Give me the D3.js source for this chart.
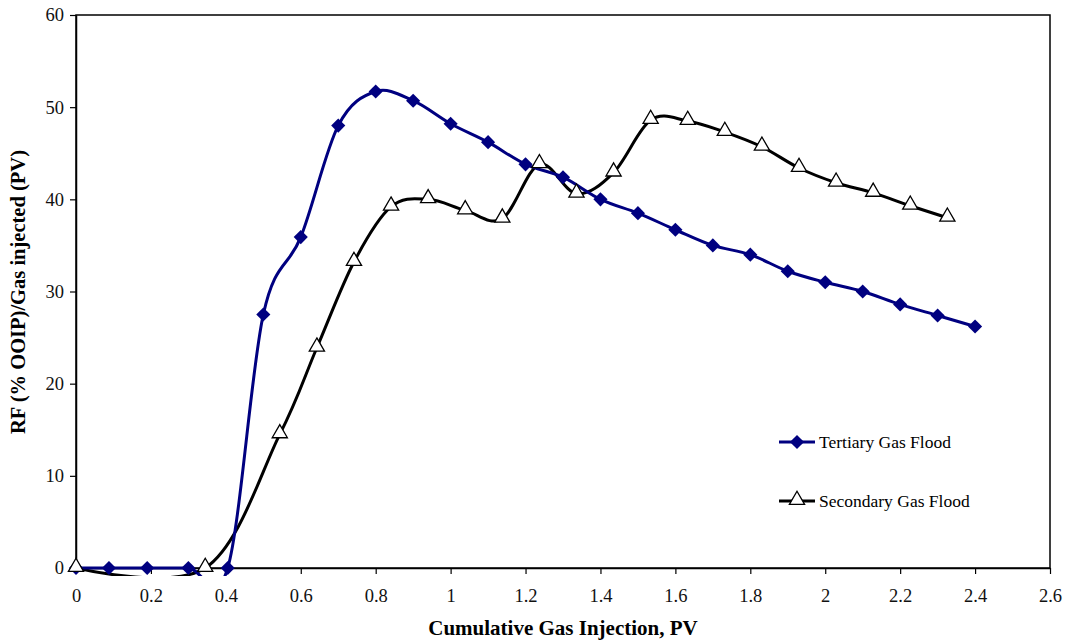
<!DOCTYPE html>
<html>
<head>
<meta charset="utf-8">
<script src="https://cdn.jsdelivr.net/npm/d3@7"></script>
<style>
  body { margin: 0; background: #fff; }
  text { font-family: "Liberation Serif", "Times New Roman", serif; }
</style>
</head>
<body>
<svg id="chart" width="1070" height="642"></svg>
<script>
// tertiary gas flood (blue diamonds)
var tertiaryX = [0, 0.088, 0.19, 0.3, 0.405, 0.5, 0.6, 0.7, 0.8, 0.9, 1.0, 1.1, 1.2, 1.3, 1.4, 1.5, 1.6, 1.7, 1.8, 1.9, 2.0, 2.1, 2.2, 2.3, 2.4];
var tertiaryY = [0, 0, 0, 0, 0, 27.5, 35.9, 48, 51.7, 50.7, 48.2, 46.2, 43.8, 42.4, 40, 38.5, 36.7, 35, 34, 32.2, 31, 30, 28.6, 27.4, 26.2];
// secondary gas flood (open triangles)
var secondaryX = [0, 0.345, 0.544, 0.643, 0.742, 0.841, 0.94, 1.039, 1.138, 1.237, 1.336, 1.435, 1.534, 1.633, 1.732, 1.831, 1.93, 2.029, 2.128, 2.227, 2.326];
var secondaryY = [0, 0, 14.5, 23.9, 33.2, 39.2, 40, 38.8, 37.9, 43.8, 40.6, 42.9, 48.6, 48.5, 47.3, 45.7, 43.4, 41.8, 40.7, 39.3, 38];

var xTicks = [0, 0.2, 0.4, 0.6, 0.8, 1, 1.2, 1.4, 1.6, 1.8, 2, 2.2, 2.4, 2.6];
var yTicks = [0, 10, 20, 30, 40, 50, 60];

var svg = d3.select('#chart');
var pLeft = 76, pRight = 1050, pTop = 15, pBottom = 568;

var x = d3.scaleLinear().domain([0, 2.6]).range([pLeft, pRight]);
var y = d3.scaleLinear().domain([0, 60]).range([pBottom, pTop]);

// clip to plot area (a little room below zero for the smoothing dip)
svg.append('defs').append('clipPath').attr('id', 'clip')
  .append('rect').attr('x', pLeft).attr('y', pTop).attr('width', pRight - pLeft).attr('height', pBottom - pTop + 8);

// frame
svg.append('rect')
  .attr('x', pLeft).attr('y', pTop)
  .attr('width', pRight - pLeft).attr('height', pBottom - pTop)
  .attr('fill', 'none').attr('stroke', '#000').attr('stroke-width', 1.5);

// axes
var xAxis = svg.append('g')
  .attr('transform', 'translate(0,' + pBottom + ')')
  .call(d3.axisBottom(x).tickValues(xTicks).tickSize(6).tickSizeOuter(0).tickPadding(15)
    .tickFormat(function (d) { return String(+d.toFixed(1)); }));
var yAxis = svg.append('g')
  .attr('transform', 'translate(' + pLeft + ',0)')
  .call(d3.axisLeft(y).tickValues(yTicks).tickSize(6).tickSizeOuter(0).tickPadding(6));

[xAxis, yAxis].forEach(function (a) {
  a.select('.domain').attr('stroke-width', 1.5);
  a.selectAll('.tick line').attr('stroke-width', 1.2);
  a.selectAll('.tick text').attr('font-size', 18.5).attr('font-family', '"Liberation Serif", serif').attr('fill', '#111');
});

// axis titles
svg.append('text')
  .attr('x', 563).attr('y', 635)
  .attr('text-anchor', 'middle')
  .attr('font-size', 21).attr('font-weight', 'bold')
  .text('Cumulative Gas Injection, PV');

svg.append('text')
  .attr('transform', 'translate(25,292) rotate(-90)')
  .attr('text-anchor', 'middle')
  .attr('font-size', 20.5).attr('font-weight', 'bold')
  .text('RF (% OOIP)/Gas injected (PV)');

var line = d3.line()
  .x(function (d) { return x(d[0]); })
  .y(function (d) { return y(d[1]); })
  .curve(d3.curveCardinal.tension(0));

var tertiary = d3.zip(tertiaryX, tertiaryY);
var secondary = d3.zip(secondaryX, secondaryY);

var plot = svg.append('g').attr('clip-path', 'url(#clip)');

plot.append('path').datum(secondary)
  .attr('d', line).attr('fill', 'none').attr('stroke', '#000').attr('stroke-width', 3);
plot.append('path').datum(tertiary)
  .attr('d', line).attr('fill', 'none').attr('stroke', '#000080').attr('stroke-width', 3);

var diamond = d3.symbol().type(d3.symbolSquare).size(100);
var triangle = d3.symbol().type(d3.symbolTriangle).size(100);

svg.append('g').selectAll('path')
  .data(tertiary).enter().append('path')
  .attr('d', diamond)
  .attr('transform', function (d) { return 'translate(' + x(d[0]) + ',' + y(d[1]) + ') rotate(45)'; })
  .attr('fill', '#000080');

svg.append('g').selectAll('path')
  .data(secondary).enter().append('path')
  .attr('d', triangle)
  .attr('transform', function (d) { return 'translate(' + x(d[0]) + ',' + (y(d[1]) - 1) + ')'; })
  .attr('fill', '#fff').attr('stroke', '#000').attr('stroke-width', 1.3);

// legend
var legend = [
  { name: 'Tertiary Gas Flood', color: '#000080', shape: 'diamond', yy: 442 },
  { name: 'Secondary Gas Flood', color: '#000', shape: 'triangle', yy: 501 }
];
legend.forEach(function (l) {
  svg.append('line').attr('x1', 779).attr('x2', 815).attr('y1', l.yy).attr('y2', l.yy)
    .attr('stroke', l.color).attr('stroke-width', 3);
  if (l.shape === 'diamond') {
    svg.append('path').attr('d', diamond)
      .attr('transform', 'translate(797,' + l.yy + ') rotate(45)').attr('fill', l.color);
  } else {
    svg.append('path').attr('d', triangle)
      .attr('transform', 'translate(797,' + (l.yy - 1) + ')')
      .attr('fill', '#fff').attr('stroke', '#000').attr('stroke-width', 1.3);
  }
  svg.append('text').attr('x', 819).attr('y', l.yy + 6)
    .attr('font-size', 17.5).text(l.name);
});
</script>
</body>
</html>
